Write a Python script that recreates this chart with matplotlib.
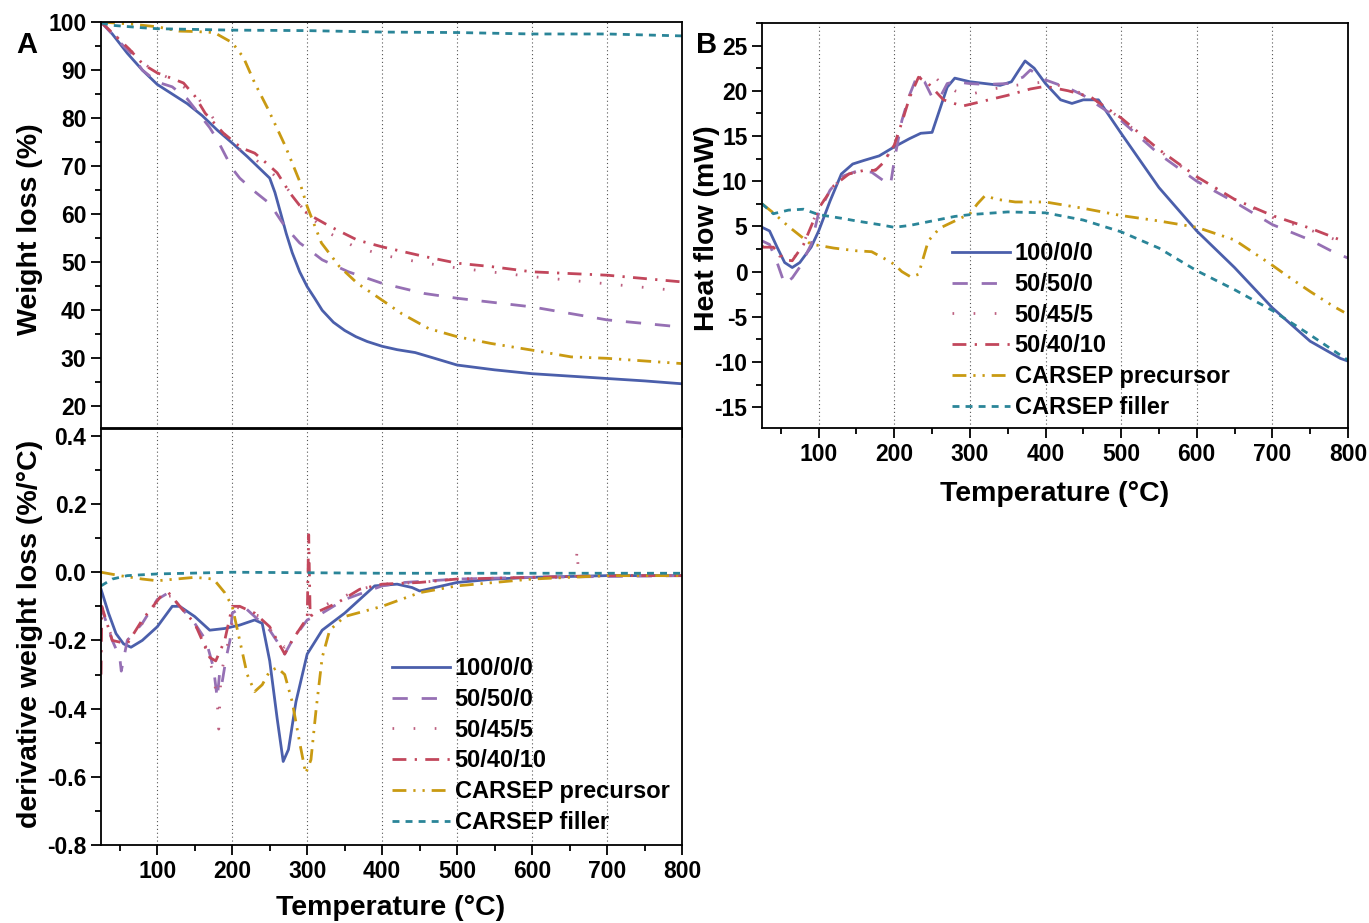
import matplotlib
matplotlib.use("Agg")
import matplotlib.pyplot as plt
from matplotlib.ticker import MultipleLocator

plt.rcParams['font.family'] = ['Liberation Sans', 'DejaVu Sans']
plt.rcParams['font.weight'] = 'bold'
plt.rcParams['axes.unicode_minus'] = False

labels = ['100/0/0', '50/50/0', '50/45/5', '50/40/10', 'CARSEP precursor', 'CARSEP filler']
colors = ['#4b5fab', '#9670b4', '#bd6080', '#c2475c', '#c99a12', '#2a8598']
styles = ['-', (0, (5.5, 5)), (0, (0.6, 7)), (0, (5, 3, 0.8, 3)),
          (0, (5, 2.5, 0.8, 2.5, 0.8, 2.5)), (0, (2.5, 2.2))]

# --- weight loss (TGA) ---
t_w0 = [25, 40, 60, 80, 100, 120, 140, 160, 180, 200, 220, 240, 250, 257, 265, 272, 280, 290, 300,
        310, 320, 335, 350, 365, 380, 400, 420, 444, 470, 500, 550, 600, 650, 700, 750, 800]
w0 = [100, 97.5, 93.5, 90, 87, 85, 83, 80.5, 77.5, 74.8, 72, 69, 67.5, 64.5, 60, 56, 52, 48, 44.9,
      42.5, 40, 37.5, 35.8, 34.5, 33.5, 32.5, 31.8, 31.2, 30, 28.6, 27.6, 26.8, 26.3, 25.8, 25.3, 24.7]
t_w1 = [25, 40, 55, 65, 80, 100, 120, 140, 155, 170, 180, 190, 200, 210, 230, 250, 270, 290, 300,
        320, 355, 400, 456, 500, 600, 700, 800]
w1 = [100, 97.5, 95, 93.5, 90, 87.5, 86.5, 84, 81, 78, 75.5, 72.5, 69.5, 67.5, 64.7, 62.2, 57.5, 54,
      52.9, 50.5, 48, 45.6, 43.5, 42.5, 40.7, 38, 36.5]
t_w2 = [25, 45, 65, 85, 100, 120, 150, 170, 190, 210, 230, 250, 270, 285, 300, 330, 360, 400, 450,
        500, 600, 700, 800]
w2 = [100, 97, 94, 91, 89.5, 88, 85, 81, 76.5, 73.5, 71.5, 69, 66, 63, 60, 56, 53.5, 51.5, 50, 48.8,
      47, 45.5, 44]
t_w3 = [25, 45, 63, 81, 100, 117, 135, 150, 164, 188, 212, 230, 248, 260, 277, 296, 307, 331, 367,
        400, 456, 500, 545, 600, 700, 800]
w3 = [100, 97, 94.3, 91.2, 89.4, 88.4, 87.3, 84.6, 81, 76.9, 73.8, 72.7, 70.3, 68.6, 64.4, 60.6,
      59.5, 57.4, 54.6, 53.2, 51.2, 49.8, 49.1, 48, 47.3, 45.9]
t_w4 = [25, 69, 87, 100, 129, 152, 176, 200, 215, 230, 248, 271, 289, 300, 307, 319, 343, 367, 400,
        426, 462, 500, 545, 600, 652, 700, 800]
w4 = [100, 99.5, 99.2, 99, 98.1, 98, 97.8, 95.7, 92.6, 87.3, 81.8, 74.1, 67.2, 61.6, 58.8, 54, 49.1,
      45.6, 42.1, 39.3, 36.2, 34.5, 33.1, 31.7, 30.3, 30, 28.9]
t_w5 = [25, 40, 80, 100, 200, 300, 400, 500, 600, 700, 800]
w5 = [99.8, 99.3, 98.8, 98.6, 98.3, 98.2, 97.9, 97.8, 97.5, 97.5, 97.1]

# --- derivative weight loss (DTG) ---
t_d0 = [25, 35, 45, 55, 65, 80, 100, 120, 130, 150, 170, 190, 210, 230, 240, 250, 260, 268, 275,
        285, 300, 320, 350, 370, 390, 420, 440, 450, 480, 500, 550, 600, 700, 800]
d0 = [-0.05, -0.12, -0.18, -0.21, -0.22, -0.2, -0.16, -0.1, -0.1, -0.13, -0.17, -0.165, -0.155,
      -0.14, -0.15, -0.26, -0.43, -0.555, -0.52, -0.38, -0.24, -0.17, -0.12, -0.08, -0.04, -0.035,
      -0.045, -0.055, -0.04, -0.03, -0.02, -0.015, -0.01, -0.01]
t_d1 = [25, 40, 50, 52, 60, 80, 100, 115, 130, 150, 165, 175, 180, 183, 186, 192, 197, 200, 215,
        230, 250, 265, 270, 280, 300, 320, 350, 400, 430, 500, 600, 800]
d1 = [-0.1, -0.2, -0.25, -0.29, -0.2, -0.15, -0.08, -0.06, -0.1, -0.15, -0.2, -0.28, -0.37, -0.3,
      -0.33, -0.25, -0.2, -0.12, -0.1, -0.13, -0.17, -0.22, -0.24, -0.2, -0.14, -0.12, -0.08, -0.04,
      -0.03, -0.02, -0.015, -0.01]
t_d2 = [25, 40, 60, 80, 105, 120, 135, 150, 165, 175, 180, 182, 185, 195, 205, 220, 240, 260, 270,
        280, 295, 310, 340, 370, 400, 450, 500, 600, 658, 660, 662, 700, 800]
d2 = [-0.12, -0.19, -0.2, -0.15, -0.07, -0.07, -0.11, -0.15, -0.22, -0.3, -0.38, -0.46, -0.3, -0.2,
      -0.1, -0.12, -0.13, -0.2, -0.22, -0.2, -0.15, -0.11, -0.08, -0.05, -0.035, -0.03, -0.02, -0.015,
      -0.015, 0.07, -0.012, -0.01, -0.01]
t_d3 = [25, 26, 40, 60, 80, 105, 115, 130, 150, 170, 178, 190, 200, 210, 230, 250, 260, 270, 280,
        295, 300, 302, 304, 310, 340, 370, 400, 450, 500, 600, 700, 800]
d3 = [-0.3, -0.1, -0.2, -0.21, -0.14, -0.07, -0.06, -0.1, -0.15, -0.25, -0.26, -0.2, -0.1, -0.1,
      -0.12, -0.16, -0.2, -0.24, -0.2, -0.15, -0.14, 0.11, -0.13, -0.12, -0.09, -0.05, -0.035, -0.03,
      -0.02, -0.015, -0.01, -0.01]
t_d4 = [25, 50, 80, 100, 150, 175, 190, 200, 210, 220, 230, 240, 250, 260, 270, 280, 290, 298, 305,
        312, 320, 330, 350, 400, 450, 500, 600, 700, 800]
d4 = [0.0, -0.01, -0.02, -0.025, -0.015, -0.02, -0.06, -0.1, -0.2, -0.3, -0.35, -0.33, -0.29, -0.28,
      -0.3, -0.38, -0.5, -0.59, -0.55, -0.4, -0.25, -0.17, -0.13, -0.1, -0.06, -0.04, -0.02, -0.01,
      -0.01]
t_d5 = [25, 40, 60, 100, 200, 400, 600, 800]
d5 = [-0.04, -0.02, -0.01, -0.005, 0.0, -0.003, -0.003, -0.003]

# --- heat flow (DSC) ---
t_h0 = [25, 35, 45, 55, 65, 75, 90, 100, 115, 130, 145, 160, 180, 200, 220, 235, 250, 260, 270, 280,
        300, 320, 340, 355, 365, 373, 385, 400, 420, 435, 450, 470, 500, 550, 600, 650, 700, 750,
        790, 800]
h0 = [4.9, 4.5, 2.7, 1.0, 0.45, 1.0, 2.7, 4.5, 7.8, 10.8, 11.9, 12.3, 12.8, 13.8, 14.7, 15.3, 15.4,
      17.9, 20.4, 21.4, 21.0, 20.8, 20.6, 21.0, 22.3, 23.3, 22.5, 20.8, 19.0, 18.6, 19.0, 19.0, 15.3,
      9.3, 4.5, 0.45, -4.0, -7.7, -9.6, -9.9]
t_h1 = [25, 35, 45, 55, 65, 75, 90, 100, 115, 130, 150, 170, 185, 195, 200, 210, 220, 230, 240, 250,
        260, 270, 280, 300, 320, 350, 360, 370, 380, 400, 430, 450, 500, 550, 600, 650, 700, 750,
        780, 800]
h1 = [3.4, 3.0, 1.0, -1.4, -0.7, 0.5, 3.0, 6.5, 9.0, 10.5, 11.1, 11.0, 10.1, 9.6, 12.3, 16.7, 19.5,
      21.6, 21.0, 19.3, 19.2, 20.8, 21.0, 20.8, 20.7, 20.8, 21.2, 21.5, 22.3, 21.2, 20.3, 19.5, 16.7,
      13.0, 10.0, 7.7, 5.2, 3.5, 2.2, 1.5]
t_h2 = [25, 40, 55, 65, 80, 100, 120, 140, 160, 180, 200, 210, 220, 235, 248, 260, 280, 300, 330,
        360, 400, 430, 460, 500, 550, 600, 650, 700, 750, 800]
h2 = [2.8, 2.6, 1.0, 1.2, 3.2, 7.0, 9.5, 10.8, 11.2, 11.3, 14.0, 16.5, 19.5, 21.5, 22.0, 21.0, 20.0,
      19.6, 20.2, 20.6, 21.0, 20.3, 19.3, 16.9, 13.4, 10.4, 8.0, 6.0, 4.6, 3.0]
t_h3 = [25, 40, 55, 65, 80, 100, 120, 140, 160, 175, 185, 200, 210, 220, 232, 245, 265, 290, 310,
        350, 380, 400, 430, 460, 500, 550, 600, 650, 700, 750, 790]
h3 = [2.7, 2.7, 1.3, 1.2, 3.0, 7.0, 9.5, 10.8, 11.2, 11.2, 12.0, 14.0, 16.5, 19.2, 21.5, 20.8, 19.0,
      18.3, 18.7, 19.5, 20.2, 20.5, 20.0, 19.3, 17.0, 13.5, 10.5, 8.0, 6.2, 4.8, 3.5]
t_h4 = [25, 40, 60, 75, 90, 100, 120, 150, 170, 190, 200, 210, 222, 232, 245, 260, 280, 300, 310,
        320, 335, 360, 400, 450, 500, 550, 600, 650, 700, 720, 750, 780, 795]
h4 = [7.5, 6.5, 5.0, 4.0, 3.0, 2.9, 2.6, 2.3, 2.2, 1.3, 0.8, 0.0, -0.6, -0.3, 3.4, 4.8, 5.6, 6.4,
      7.5, 8.4, 8.0, 7.7, 7.7, 7.0, 6.2, 5.6, 4.9, 3.5, 0.7, -0.5, -2.2, -3.8, -4.5]
t_h5 = [25, 40, 60, 80, 100, 130, 150, 180, 200, 220, 250, 280, 300, 350, 400, 450, 500, 550, 600,
        650, 700, 750, 800]
h5 = [7.5, 6.4, 6.8, 6.9, 6.3, 5.9, 5.6, 5.2, 4.9, 5.1, 5.6, 6.1, 6.3, 6.6, 6.5, 5.7, 4.4, 2.6, 0.1,
      -2.0, -4.3, -7.0, -9.8]

tw = [t_w0, t_w1, t_w2, t_w3, t_w4, t_w5]
ww = [w0, w1, w2, w3, w4, w5]
td = [t_d0, t_d1, t_d2, t_d3, t_d4, t_d5]
dd = [d0, d1, d2, d3, d4, d5]
th = [t_h0, t_h1, t_h2, t_h3, t_h4, t_h5]
hh = [h0, h1, h2, h3, h4, h5]

fig = plt.figure(figsize=(13.69, 9.23), dpi=100)
ax1 = fig.add_axes([0.0738, 0.5363, 0.4244, 0.4399])
ax2 = fig.add_axes([0.0738, 0.0845, 0.4244, 0.4507])
axb = fig.add_axes([0.5566, 0.5363, 0.428, 0.4388])

lw = 2.0
for i in range(6):
    ax1.plot(tw[i], ww[i], color=colors[i], linestyle=styles[i], lw=lw)
    ax2.plot(td[i], dd[i], color=colors[i], linestyle=styles[i], lw=lw, label=labels[i])
    axb.plot(th[i], hh[i], color=colors[i], linestyle=styles[i], lw=lw, label=labels[i])

ax1.set_ylim(15.5, 100)
ax2.set_ylim(-0.8, 0.42)
axb.set_ylim(-17.3, 27.5)

for ax in (ax1, ax2, axb):
    ax.set_xlim(25, 800)
    ax.xaxis.set_major_locator(MultipleLocator(100))
    ax.xaxis.set_minor_locator(MultipleLocator(50))
    ax.grid(axis='x', which='major', color='#555555', linestyle=(0, (1, 2.5)), lw=0.8)
    ax.tick_params(which='both', direction='out', top=False, right=False, labelsize=16.5, width=1.3)
    ax.tick_params(which='major', length=7)
    ax.tick_params(which='minor', length=4)
    for s in ax.spines.values():
        s.set_linewidth(1.3)
    for lab in ax.get_xticklabels() + ax.get_yticklabels():
        lab.set_fontweight('bold')

ax1.yaxis.set_major_locator(MultipleLocator(10))
ax1.yaxis.set_minor_locator(MultipleLocator(5))
ax1.tick_params(axis='x', labelbottom=False)
ax2.yaxis.set_major_locator(MultipleLocator(0.2))
ax2.yaxis.set_minor_locator(MultipleLocator(0.1))
ax2.set_yticks([0.4, 0.2, 0.0, -0.2, -0.4, -0.6, -0.8])
ax2.set_yticklabels(['0.4', '0.2', '0.0', '-0.2', '-0.4', '-0.6', '-0.8'])
axb.yaxis.set_major_locator(MultipleLocator(5))
axb.yaxis.set_minor_locator(MultipleLocator(2.5))

lab_kw = dict(fontsize=20.5, fontweight='bold')
fig.text(30 / 1369, 1 - 229 / 923, 'Weight loss (%)', rotation=90, ha='center', va='center', **lab_kw)
fig.text(30 / 1369, 1 - 634 / 923, 'derivative weight loss (%/°C)', rotation=90, ha='center', va='center', **lab_kw)
fig.text(707 / 1369, 1 - 228 / 923, 'Heat flow (mW)', rotation=90, ha='center', va='center', **lab_kw)
fig.text(391 / 1369, 1 - 908 / 923, 'Temperature (°C)', ha='center', va='center', **lab_kw)
fig.text(1055 / 1369, 1 - 494 / 923, 'Temperature (°C)', ha='center', va='center', **lab_kw)
fig.text(27 / 1369, 1 - 45 / 923, 'A', ha='center', va='center', fontsize=21, fontweight='bold')
fig.text(707 / 1369, 1 - 45 / 923, 'B', ha='center', va='center', fontsize=21, fontweight='bold')

leg_kw = dict(loc='upper left', frameon=False, fontsize=17, handlelength=2.45, handletextpad=0.2,
              labelspacing=0.33, borderpad=0, borderaxespad=0, bbox_transform=fig.transFigure)
ax2.legend(bbox_to_anchor=(392 / 1369, 1 - 657 / 923), **leg_kw)
axb.legend(bbox_to_anchor=(952 / 1369, 1 - 242 / 923), **leg_kw)

fig.savefig('out.png', dpi=100)
